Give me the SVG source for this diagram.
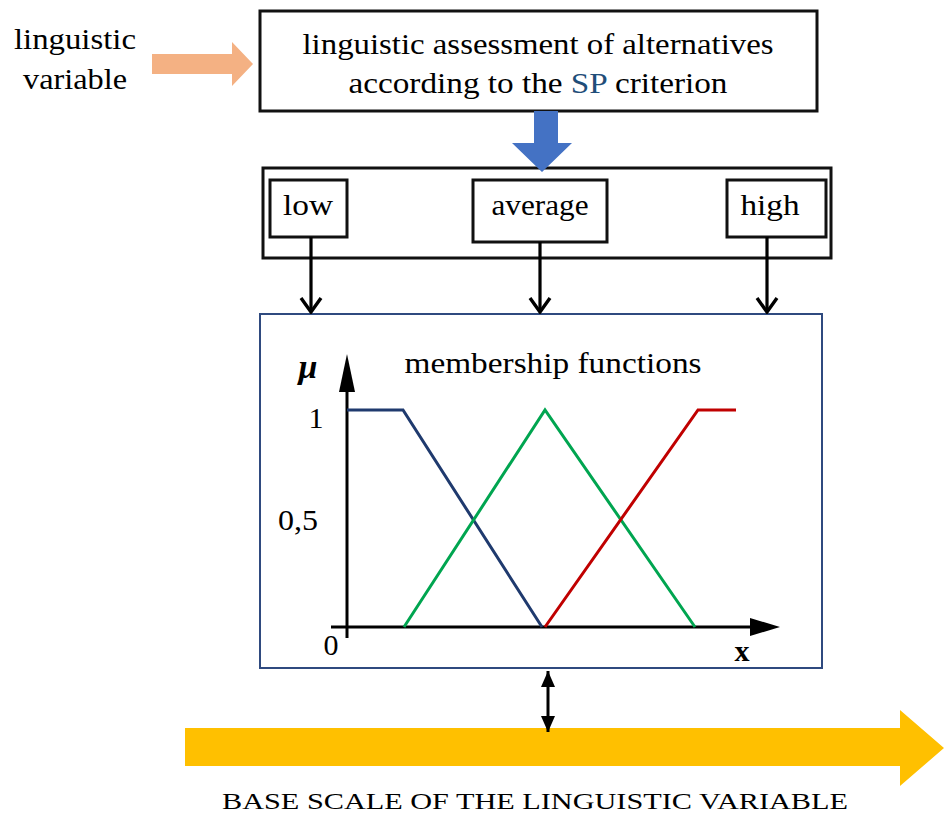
<svg xmlns="http://www.w3.org/2000/svg" width="944" height="813" viewBox="0 0 944 813">
<style>
text{font-family:"Liberation Serif","Times New Roman",serif;fill:#000}
.t{font-size:30px}
.box{fill:#fff;stroke:#111;stroke-width:3}
.conn{stroke:#000;stroke-width:3.2;fill:none}
</style>
<defs>
<marker id="chev" viewBox="0 0 22 24" refX="20" refY="12" markerWidth="22" markerHeight="24" markerUnits="userSpaceOnUse" orient="auto-start-reverse">
<path d="M6,2 L20,12 L6,22" fill="none" stroke="#000" stroke-width="3.4"/>
</marker>
<marker id="tri" viewBox="0 0 16 14" refX="16" refY="7" markerWidth="16" markerHeight="14" markerUnits="userSpaceOnUse" orient="auto-start-reverse">
<path d="M0,0 L16,7 L0,14 Z" fill="#000"/>
</marker>
</defs>

<g id="input-label">
<text class="t" x="75" y="49" text-anchor="middle" textLength="122" lengthAdjust="spacingAndGlyphs">linguistic</text>
<text class="t" x="75" y="89" text-anchor="middle" textLength="104" lengthAdjust="spacingAndGlyphs">variable</text>
</g>

<g id="assessment">
<rect class="box" x="260" y="11" width="557" height="100"/>
<text class="t" x="538" y="54" text-anchor="middle" textLength="471" lengthAdjust="spacingAndGlyphs">linguistic assessment  of alternatives</text>
<text class="t" x="538" y="93" text-anchor="middle" textLength="379" lengthAdjust="spacingAndGlyphs">according to the <tspan fill="#1F4E79">SP</tspan> criterion</text>
</g>

<g id="terms">
<rect class="box" x="263" y="168" width="568" height="90"/>
</g>
<g id="low">
<rect class="box" x="270" y="180" width="77" height="57" stroke-width="2.5"/>
<text class="t" x="308" y="215" text-anchor="middle" textLength="50" lengthAdjust="spacingAndGlyphs">low</text>
</g>
<g id="average">
<rect class="box" x="473" y="180" width="134" height="62" stroke-width="2.5"/>
<text class="t" x="540" y="215" text-anchor="middle" textLength="97" lengthAdjust="spacingAndGlyphs">average</text>
</g>
<g id="high">
<rect class="box" x="727" y="180" width="99" height="57" stroke-width="2.5"/>
<text class="t" x="770" y="215" text-anchor="middle" textLength="59" lengthAdjust="spacingAndGlyphs">high</text>
</g>

<g id="membership">
<rect x="260" y="314" width="562" height="354" fill="#fff" stroke="#2F4A7F" stroke-width="2"/>
<text class="t" x="553" y="373" text-anchor="middle" textLength="297" lengthAdjust="spacingAndGlyphs">membership  functions</text>
<text x="308" y="378" font-size="34" font-weight="bold" font-style="italic" text-anchor="middle">μ</text>
<text class="t" x="316" y="428" text-anchor="middle">1</text>
<text class="t" x="298" y="530" text-anchor="middle" textLength="40" lengthAdjust="spacingAndGlyphs">0,5</text>
<text class="t" x="331" y="655" text-anchor="middle">0</text>
<text class="t" x="742" y="661" text-anchor="middle" font-weight="bold" font-size="26">x</text>
<line x1="347" y1="638" x2="347" y2="385" stroke="#000" stroke-width="3"/>
<path d="M339,392 L347,354 L355,392 Z" fill="#000"/>
<line x1="331" y1="627" x2="756" y2="627" stroke="#000" stroke-width="3"/>
<path d="M750,618 L780,627 L750,636 Z" fill="#000"/>
<polyline points="347,410 403,410 542,627" fill="none" stroke="#1F3A6E" stroke-width="3"/>
<polyline points="404,627 545,410 695,627" fill="none" stroke="#00A550" stroke-width="3"/>
<polyline points="545,627 698,410 736,410" fill="none" stroke="#C00000" stroke-width="3"/>
</g>

<g id="base-scale">
<path d="M185,728 L900,728 L900,710 L944,748 L900,786 L900,766 L185,766 Z" fill="#FFC000"/>
<text x="535" y="809" font-size="24" text-anchor="middle" textLength="626" lengthAdjust="spacingAndGlyphs">BASE SCALE OF THE LINGUISTIC VARIABLE</text>
</g>

<g id="connectors">
<path d="M152,54 L232,54 L232,42 L253,64 L232,86 L232,74 L152,74 Z" fill="#F4B183"/>
<path d="M534,111 L558,111 L558,143 L572,143 L542,172 L512,143 L534,143 Z" fill="#4472C4"/>
<line class="conn" x1="311" y1="237" x2="311" y2="312" marker-end="url(#chev)"/>
<line class="conn" x1="540" y1="242" x2="540" y2="312" marker-end="url(#chev)"/>
<line class="conn" x1="767" y1="237" x2="767" y2="312" marker-end="url(#chev)"/>
<line x1="548" y1="671" x2="548" y2="732" stroke="#000" stroke-width="3" marker-start="url(#tri)" marker-end="url(#tri)"/>
</g>
</svg>
